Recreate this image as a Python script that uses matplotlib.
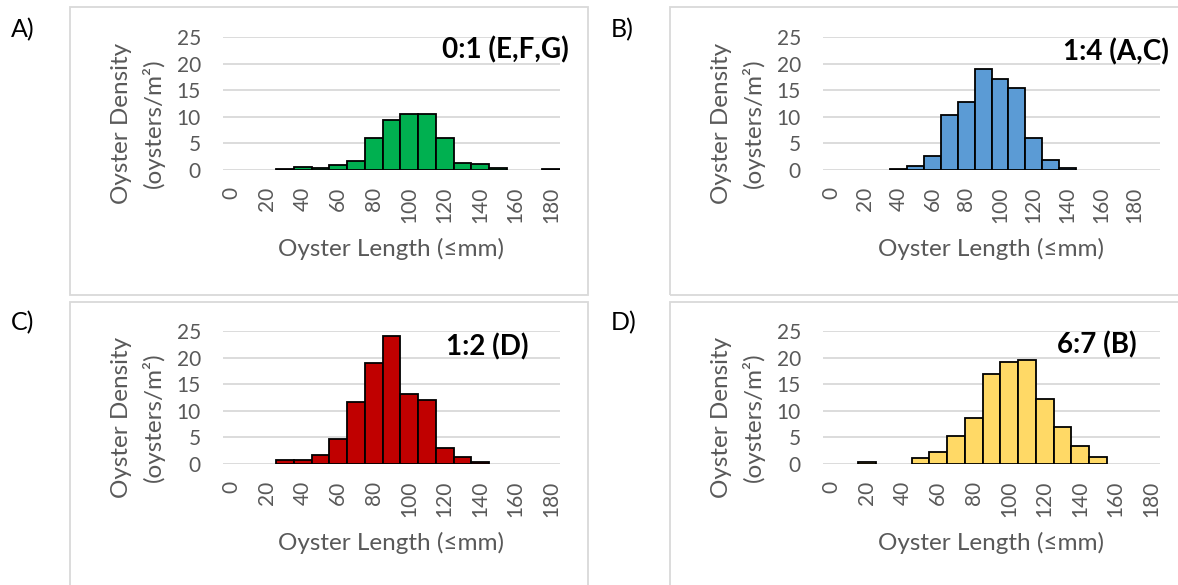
import matplotlib
matplotlib.use("Agg")
import matplotlib.pyplot as plt
from matplotlib.patches import Rectangle

plt.rcParams['font.family'] = ['Lato', 'DejaVu Sans']

# ---- data ----
lengths_19 = [0, 10, 20, 30, 40, 50, 60, 70, 80, 90, 100, 110, 120, 130, 140, 150, 160, 170, 180]
lengths_20 = lengths_19 + [190]

density_A = [0, 0, 0, 0.25, 0.5, 0.45, 0.9, 1.75, 6.1, 9.4, 10.6, 10.6, 6.1, 1.4, 1.2, 0.4, 0, 0, 0.15]
density_B = [0, 0, 0, 0, 0.1, 0.8, 2.6, 10.25, 12.8, 18.9, 17.1, 15.4, 6.0, 1.9, 0.45, 0, 0, 0, 0, 0]
density_C = [0, 0, 0, 0.7, 0.7, 1.7, 4.7, 11.6, 19.0, 24.0, 13.1, 12.1, 3.1, 1.4, 0.3, 0, 0, 0, 0]
density_D = [0, 0, 0.4, 0, 0, 1.1, 2.3, 5.3, 8.6, 16.9, 19.25, 19.6, 12.3, 7.0, 3.4, 1.4, 0, 0, 0]

titles = ["0:1 (E,F,G)", "1:4 (A,C)", "1:2 (D)", "6:7 (B)"]
panel_labels = ["A)", "B)", "C)", "D)"]
colors = ["#00B050", "#5B9BD5", "#C00000", "#FFD966"]
y_ticks = [0, 5, 10, 15, 20, 25]

W, H = 1178, 585
fig = plt.figure(figsize=(W / 100, H / 100), dpi=100)

GRAY = "#595959"
GRID = "#D9D9D9"

def fx(px):
    return px / W

def fy(py):
    return 1 - py / H

# frames
frames = [(70, 7, 588, 295), (670, 7, 1190, 295), (70, 302, 588, 600), (670, 302, 1190, 600)]
for (x0, y0, x1, y1) in frames:
    fig.patches.append(Rectangle((fx(x0), fy(y1)), fx(x1) - fx(x0), fy(y0) - fy(y1),
                                 transform=fig.transFigure, fill=False,
                                 edgecolor=GRID, linewidth=1.3, zorder=0))

# plot areas: (left px, top px, right px, bottom px)
areas = [(223, 37, 560, 170), (823, 37, 1160, 170), (223, 331, 560, 464), (823, 331, 1160, 464)]
datasets = [(lengths_19, density_A), (lengths_20, density_B), (lengths_19, density_C), (lengths_19, density_D)]
title_pos = [(569, 50), (1169, 52), (528, 347), (1137, 345)]
label_pos = [(11, 30), (611, 30), (11, 323), (611, 323)]

for i in range(4):
    l, t, r, b = areas[i]
    ax = fig.add_axes([fx(l), fy(b), fx(r) - fx(l), fy(t) - fy(b)])
    cats, vals = datasets[i]
    idx = list(range(len(cats)))
    xs = [k for k in idx if vals[k] > 0]
    hs = [vals[k] for k in xs]
    ax.bar(xs, hs, width=1.0, color=colors[i], edgecolor="black", linewidth=1.3, zorder=3)
    ax.set_xlim(-0.5, len(cats) - 0.5)
    ax.set_ylim(0, 25)
    ax.set_yticks(y_ticks)
    ax.yaxis.grid(True, color=GRID, linewidth=1.3, zorder=0)
    ax.set_axisbelow(True)
    for s in ax.spines.values():
        s.set_visible(False)
    ax.set_xticks(idx[::2])
    ax.set_xticklabels([str(c) for c in cats[::2]], rotation=90, color=GRAY, fontsize=15)
    ax.tick_params(axis='x', length=0, pad=12)
    ax.tick_params(axis='y', length=0, pad=16, labelcolor=GRAY, labelsize=15)
    ax.set_xlabel("Oyster Length (≤mm)", color=GRAY, fontsize=17.5, labelpad=11)
    # y label (two lines)
    fig.text(fx(l - 101), fy(t + 86), "Oyster Density", rotation=90, color=GRAY,
             fontsize=17.5, ha='center', va='center')
    fig.text(fx(l - 70), fy(t + 86), "(oysters/m²)", rotation=90, color=GRAY,
             fontsize=17.5, ha='center', va='center')
    tx, ty = title_pos[i]
    fig.text(fx(tx), fy(ty), titles[i], fontsize=20, fontweight='bold', color='black',
             ha='right', va='center')
    lx, ly = label_pos[i]
    fig.text(fx(lx), fy(ly), panel_labels[i], fontsize=18, color='black', ha='left', va='center')

fig.savefig("out.png", dpi=100)
